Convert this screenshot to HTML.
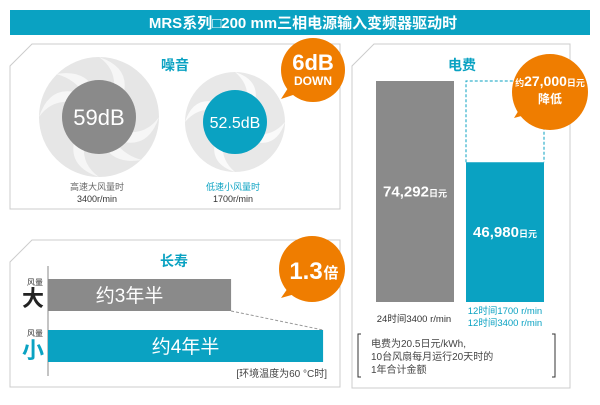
<!DOCTYPE html>
<html><head><meta charset="utf-8"><style>
body{margin:0;width:600px;height:400px;background:#fff;overflow:hidden;font-family:"Liberation Sans","Noto Sans CJK SC",sans-serif}
svg text{font-family:"Liberation Sans","Noto Sans CJK SC",sans-serif}
</style></head><body>
<svg id="s" width="600" height="400" viewBox="0 0 600 400">
<rect x="10" y="10" width="580" height="25" fill="#0aa2c2"/>
<text x="303" y="28" text-anchor="middle" fill="#fff" font-size="15" font-weight="bold">MRS系列□200 mm三相电源输入变频器驱动时</text>

<!-- noise panel -->
<path d="M32,44 H340 V209 H10 V66 Z" fill="#fff" stroke="#ccc"/>
<text x="175" y="70" text-anchor="middle" fill="#0aa2c2" font-size="14" font-weight="bold">噪音</text>
<g>
<circle cx="99" cy="117" r="60" fill="#e6e6e6"/>
<g fill="#f6f6f6">
<path d="M99,57 q30,10 25,35 l-10,-3 q2,-20 -15,-32z"/>
<path d="M159,117 q-10,30 -35,25 l3,-10 q20,2 32,-15z"/>
<path d="M99,177 q-30,-10 -25,-35 l10,3 q-2,20 15,32z"/>
<path d="M39,117 q10,-30 35,-25 l-3,10 q-20,-2 -32,15z"/>
<path d="M56,74 q30,-5 40,18 l-10,5 q-10,-18 -30,-23z"/>
<path d="M142,160 q-30,5 -40,-18 l10,-5 q10,18 30,23z"/>
</g>
<circle cx="99" cy="117" r="37" fill="#8a8a8a"/>
<text x="99" y="125" text-anchor="middle" fill="#fff" font-size="22">59dB</text>
</g>
<text x="97" y="190" text-anchor="middle" fill="#666" font-size="9">高速大风量时</text>
<text x="97" y="202" text-anchor="middle" fill="#333" font-size="9">3400r/min</text>
<g>
<circle cx="235" cy="122" r="50" fill="#e8e8e8"/>
<g fill="#fafafa">
<path d="M235,72 q25,8 20,30 l-8,-2 q2,-16 -12,-28z"/>
<path d="M285,122 q-8,25 -30,20 l2,-8 q16,2 28,-12z"/>
<path d="M235,172 q-25,-8 -20,-30 l8,2 q-2,16 12,28z"/>
<path d="M185,122 q8,-25 30,-20 l-2,8 q-16,-2 -28,12z"/>
</g>
<circle cx="235" cy="122" r="32" fill="#0aa2c2"/>
<text x="235" y="128" text-anchor="middle" fill="#fff" font-size="16">52.5dB</text>
</g>
<text x="233" y="190" text-anchor="middle" fill="#0aa2c2" font-size="9">低速小风量时</text>
<text x="233" y="202" text-anchor="middle" fill="#333" font-size="9">1700r/min</text>
<g>
<path d="M290,85 L281,99 L302,92 Z" fill="#ef7d00"/>
<circle cx="313" cy="70" r="32" fill="#ef7d00"/>
<text x="313" y="70" text-anchor="middle" fill="#fff" font-size="22" font-weight="bold">6dB</text>
<text x="313" y="85" text-anchor="middle" fill="#fff" font-size="12" font-weight="bold">DOWN</text>
</g>

<!-- life panel -->
<path d="M32,240 H340 V387 H10 V262 Z" fill="#fff" stroke="#ccc"/>
<text x="174" y="266" text-anchor="middle" fill="#0aa2c2" font-size="14" font-weight="bold">长寿</text>
<line x1="48" y1="266" x2="48" y2="376" stroke="#888"/>
<g id="life"></g>
<text x="35" y="285" text-anchor="middle" font-size="8" fill="#333">风量</text>
<text x="33" y="306" text-anchor="middle" font-size="22" font-weight="bold" fill="#222">大</text>
<text x="35" y="336" text-anchor="middle" font-size="8" fill="#333">风量</text>
<text x="33" y="358" text-anchor="middle" font-size="22" font-weight="bold" fill="#0aa2c2">小</text>
<text x="327" y="377" text-anchor="end" font-size="10" fill="#444">[环境温度为60 °C时]</text>
<g>
<path d="M290,285 L281,298 L302,292 Z" fill="#ef7d00"/>
<circle cx="312" cy="269" r="33" fill="#ef7d00"/>
<text x="306" y="279" text-anchor="middle" fill="#fff" font-size="24" font-weight="bold">1.3</text>
<text x="331" y="278" text-anchor="middle" fill="#fff" font-size="15" font-weight="bold">倍</text>
</g>

<!-- cost panel -->
<path d="M374,44 H570 V388 H352 V66 Z" fill="#fff" stroke="#ccc"/>
<text x="462" y="70" text-anchor="middle" fill="#0aa2c2" font-size="14" font-weight="bold">电费</text>
<g id="cost"></g>
<text x="414" y="322" text-anchor="middle" font-size="9.5" fill="#333">24时间3400 r/min</text>
<text x="505" y="314" text-anchor="middle" font-size="9.5" fill="#0aa2c2">12时间1700 r/min</text>
<text x="505" y="326" text-anchor="middle" font-size="9.5" fill="#0aa2c2">12时间3400 r/min</text>
<path d="M361,334 h-3 v43 h3 M552,334 h3 v43 h-3" fill="none" stroke="#333"/>
<text x="371" y="347" font-size="10" fill="#444">电费为20.5日元/kWh,</text>
<text x="371" y="360" font-size="10" fill="#444">10台风扇每月运行20天时的</text>
<text x="371" y="373" font-size="10" fill="#444">1年合计金额</text>
<g>
<path d="M522,105 L514,118 L536,112 Z" fill="#ef7d00"/>
<circle cx="550" cy="92" r="38" fill="#ef7d00"/>
<text x="550" y="86" text-anchor="middle" fill="#fff" font-weight="bold"><tspan font-size="9">约</tspan><tspan font-size="14">27,000</tspan><tspan font-size="9">日元</tspan></text>
<text x="550" y="103" text-anchor="middle" fill="#fff" font-size="12" font-weight="bold">降低</text>
</g>
</svg>
<script>
const NS="http://www.w3.org/2000/svg";
const lifeCats=["约3年半","约4年半"];
const lifeYears=[3.5,4.5];
const costCats=["24时间3400 r/min","12时间1700/3400 r/min"];
const costValues=[74292,46980];
const costLabels=["74,292","46,980"];
function mk(t,a,p){const e=document.createElementNS(NS,t);for(const k in a)e.setAttribute(k,a[k]);p.appendChild(e);return e;}
// life bars: x scale (axis starts at 1.5 years)
const lx=v=>48+(v-1.51)*92;
const lifeG=document.getElementById('life');
const lifeY=[279,330],lifeCol=["#8a8a8a","#0aa2c2"];
mk('line',{x1:lx(lifeYears[0]),y1:311,x2:lx(lifeYears[1]),y2:330,stroke:"#999","stroke-dasharray":"3,2"},lifeG);
lifeYears.forEach((v,i)=>{
 const r=mk('rect',{x:48,y:lifeY[i],width:lx(v)-48,height:32,fill:lifeCol[i]},lifeG);
 
 
 const t=mk('text',{x:(48+lx(v))/2+(i==0?-10:0),y:lifeY[i]+23,"text-anchor":"middle",fill:"#fff","font-size":"19"},lifeG);
 t.textContent=lifeCats[i];
 
 
});
// cost bars: y scale
const base=302,cy=v=>base-v*(221/74292);
const costG=document.getElementById('cost');
const cx=[376,466],cCol=["#8a8a8a","#0aa2c2"];
mk('path',{d:`M${cx[1]},${cy(costValues[1])} V${cy(costValues[0])} H${cx[1]+78} V${cy(costValues[1])}`,fill:"none",stroke:"#0aa2c2","stroke-dasharray":"3,2"},costG);
costValues.forEach((v,i)=>{
 const r=mk('rect',{x:cx[i],y:cy(v),width:78,height:base-cy(v),fill:cCol[i]},costG);
 
 
 const t=mk('text',{x:cx[i]+39,y:(cy(v)+base)/2+5,"text-anchor":"middle",fill:"#fff","font-weight":"bold"},costG);
 const a=mk('tspan',{"font-size":"15"},t);a.textContent=costLabels[i];
 const b=mk('tspan',{"font-size":"9"},t);b.textContent="日元";
 
 
});
</script>
</body></html>
